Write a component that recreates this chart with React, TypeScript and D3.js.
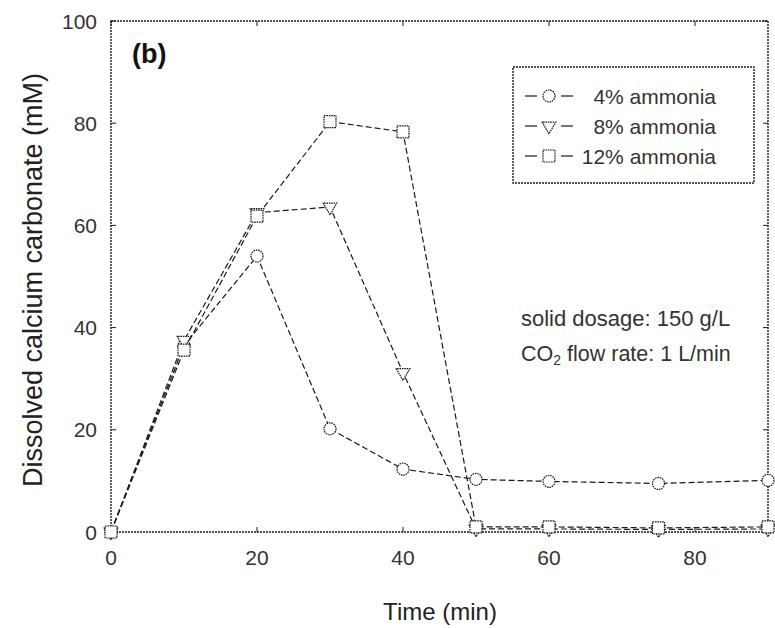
import React from "react";
import * as d3 from "d3";

const times = [0, 10, 20, 30, 40, 50, 60, 75, 90];
const ammonia4 = [0, 36.5, 54, 20.2, 12.3, 10.3, 9.9, 9.5, 10.1];
const ammonia8 = [0, 37.5, 62.5, 63.6, 31.2, 0.6, 0.6, 0.5, 0.6];
const ammonia12 = [0, 35.6, 61.8, 80.3, 78.3, 1.0, 1.0, 0.8, 1.0];
const seriesNames = ["4% ammonia", "8% ammonia", "12% ammonia"];
const seriesMarkers = ["circle", "triangle", "square"];
const xTicks = [0, 20, 40, 60, 80];
const yTicks = [0, 20, 40, 60, 80, 100];

const W = 775;
const H = 628;
const L = 111, R = 768, T = 21, B = 532;
const FONT = "'Liberation Sans', Arial, Helvetica, sans-serif";
const INK = "#1a1a1a";

function Marker({ type, cx, cy }: { type: string; cx: number; cy: number }) {
  const common = { fill: "#fff", stroke: INK, strokeWidth: 1.2, strokeDasharray: "1.6 0.8" };
  if (type === "circle") {
    const p = d3.symbol().type(d3.symbolCircle).size(Math.PI * 6 * 6)();
    return <path d={p || ""} transform={`translate(${cx},${cy})`} {...common} />;
  }
  if (type === "square") {
    const p = d3.symbol().type(d3.symbolSquare).size(12 * 12)();
    return <path d={p || ""} transform={`translate(${cx},${cy})`} {...common} />;
  }
  const p = d3.symbol().type(d3.symbolTriangle).size(80)();
  return <path d={p || ""} transform={`translate(${cx},${cy}) rotate(180)`} {...common} />;
}

export default function App() {
  const x = d3.scaleLinear().domain([0, 90]).range([L, R]);
  const y = d3.scaleLinear().domain([0, 100]).range([B, T]);
  const line = d3
    .line<[number, number]>()
    .x((d) => x(d[0]))
    .y((d) => y(d[1]));
  const allSeries = [ammonia4, ammonia8, ammonia12];
  const tickLen = 5;
  const frameStyle = { stroke: INK, strokeWidth: 1.4, strokeDasharray: "2 1", fill: "none" };

  const legendRows = [96, 126, 156];

  return (
    <svg
      width={W}
      height={H}
      style={{ position: "absolute", left: 0, top: 0, background: "#fff" }}
      fontFamily={FONT}
    >
      <rect x={0} y={0} width={W} height={H} fill="#fff" />
      {/* frame */}
      <rect x={L} y={T} width={R - L} height={B - T} {...frameStyle} />
      {/* ticks */}
      {xTicks.map((t) => (
        <g key={"xt" + t}>
          <line x1={x(t)} x2={x(t)} y1={B} y2={B - tickLen} stroke={INK} strokeWidth={1} />
          <line x1={x(t)} x2={x(t)} y1={T} y2={T + tickLen} stroke={INK} strokeWidth={1} />
          <text
            x={x(t)}
            y={557}
            textAnchor="middle"
            dominantBaseline="central"
            fontSize={21}
            fill="#333"
          >
            {t}
          </text>
        </g>
      ))}
      {yTicks.map((t) => (
        <g key={"yt" + t}>
          <line x1={L} x2={L + tickLen} y1={y(t)} y2={y(t)} stroke={INK} strokeWidth={1} />
          <line x1={R} x2={R - tickLen} y1={y(t)} y2={y(t)} stroke={INK} strokeWidth={1} />
          <text
            x={97}
            y={y(t)}
            textAnchor="end"
            dominantBaseline="central"
            fontSize={21}
            fill="#333"
          >
            {t}
          </text>
        </g>
      ))}
      {/* axis titles */}
      <text x={440} y={611} textAnchor="middle" dominantBaseline="central" fontSize={24} fill="#222">
        Time (min)
      </text>
      <text
        transform={`translate(33,280) rotate(-90)`}
        textAnchor="middle"
        dominantBaseline="central"
        fontSize={27}
        fill="#222"
      >
        Dissolved calcium carbonate (mM)
      </text>
      {/* panel label */}
      <text x={132} y={54} dominantBaseline="central" fontSize={27} fontWeight="bold" fill="#111">
        (b)
      </text>
      {/* series */}
      {allSeries.map((vals, i) => (
        <path
          key={"l" + i}
          d={line(times.map((t, j) => [t, vals[j]] as [number, number])) || ""}
          fill="none"
          stroke={INK}
          strokeWidth={1.2}
          strokeDasharray="6 3"
        />
      ))}
      {allSeries.map((vals, i) => (
        <g key={"m" + i}>
          {times.map((t, j) => (
            <Marker key={j} type={seriesMarkers[i]} cx={x(t)} cy={y(vals[j])} />
          ))}
        </g>
      ))}
      {/* legend */}
      <rect x={513} y={67} width={241} height={116} {...frameStyle} fill="#fff" />
      {seriesNames.map((n, i) => (
        <g key={"lg" + i}>
          <line x1={525} x2={537} y1={legendRows[i]} y2={legendRows[i]} stroke={INK} strokeWidth={1.2} />
          <line x1={561} x2={573} y1={legendRows[i]} y2={legendRows[i]} stroke={INK} strokeWidth={1.2} />
          <Marker type={seriesMarkers[i]} cx={549} cy={legendRows[i]} />
          <text
            x={716}
            y={legendRows[i]}
            textAnchor="end"
            dominantBaseline="central"
            fontSize={21}
            fill="#333"
          >
            {n}
          </text>
        </g>
      ))}
      {/* annotations */}
      <text x={521} y={318} dominantBaseline="central" fontSize={22} fill="#333">
        solid dosage: 150 g/L
      </text>
      <text x={521} y={354} dominantBaseline="central" fontSize={21.5} fill="#333">
        CO
        <tspan fontSize={14} dy={6}>
          2
        </tspan>
        <tspan dy={-6}> flow rate: 1 L/min</tspan>
      </text>
    </svg>
  );
}
